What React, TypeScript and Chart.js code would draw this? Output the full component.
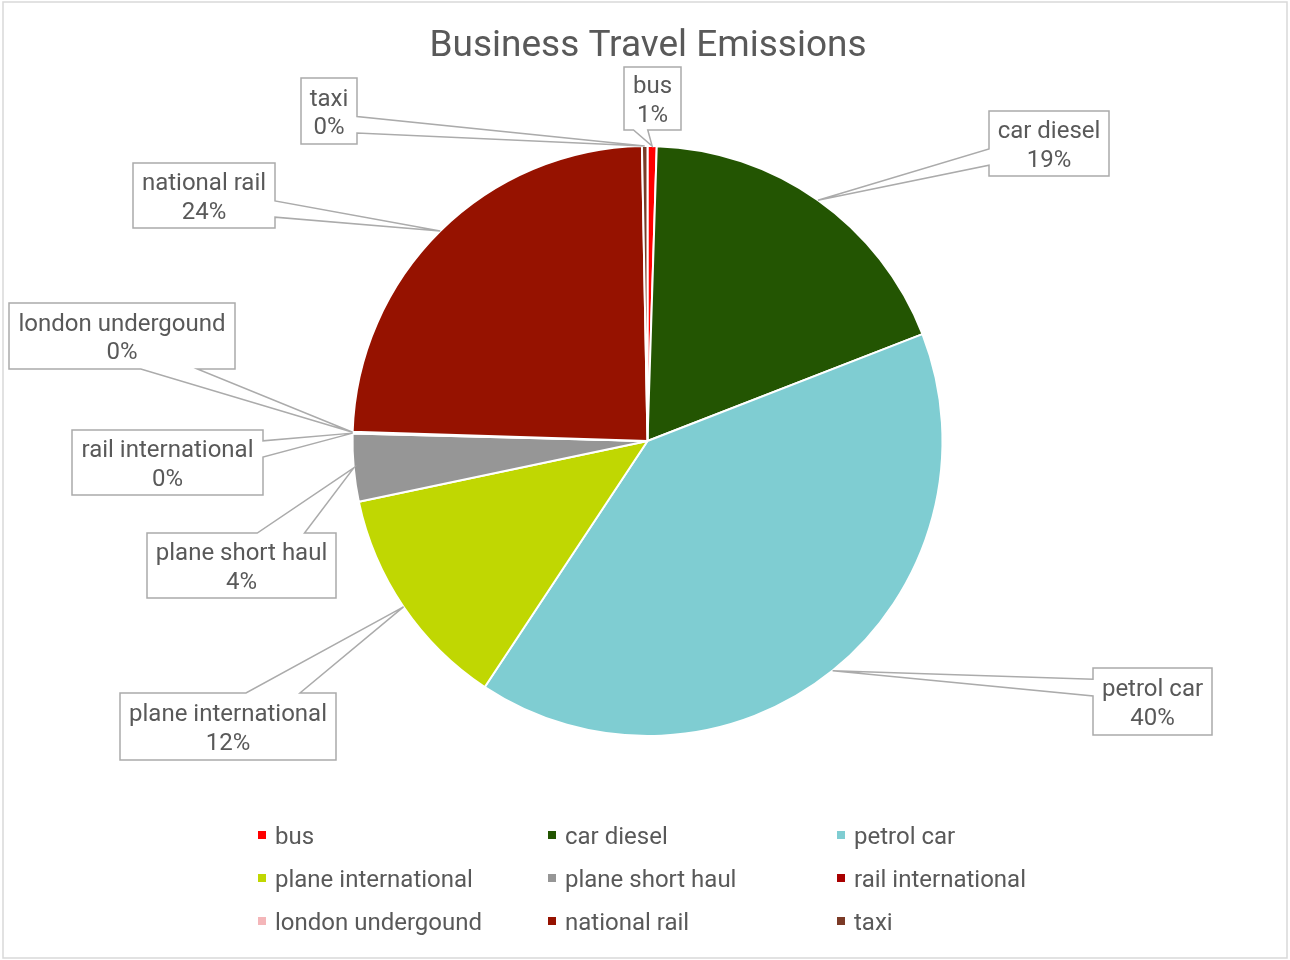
import React, { useEffect, useRef } from "react";
import { Chart, registerables } from "chart.js";

Chart.register(...registerables);

const chartTitle = "Business Travel Emissions";
const categories = [
  "bus",
  "car diesel",
  "petrol car",
  "plane international",
  "plane short haul",
  "rail international",
  "london undergound",
  "national rail",
  "taxi",
];
const emissionShares = [0.5, 18.6, 40.2, 12.4, 3.7, 0.05, 0.05, 24.2, 0.3];
const sliceColors = [
  "#FF0000",
  "#235502",
  "#7FCDD2",
  "#C0D702",
  "#969696",
  "#A80000",
  "#F4B6B9",
  "#961200",
  "#7B3A26",
];

// callout box rectangles [left, top, right, bottom] (layout only)
const calloutBoxes = [
  [624, 67, 681, 130],
  [989, 111, 1109, 176],
  [1093, 668, 1212, 735],
  [120, 693, 336, 760],
  [147, 533, 336, 598],
  [72, 430, 263, 495],
  [9, 303, 235, 369],
  [133, 163, 275, 228],
  [301, 78, 357, 144],
];

const legendColumnsX = [258, 548, 837];
const legendRowsY = [835, 878, 921];

const FONT = "Roboto, 'Noto Sans', sans-serif";
const TEXT_COLOR = "#595959";
const LINE_COLOR = "#ABABAB";

function drawCallout(ctx, box, tip) {
  const [l, t, r, b] = box;
  const w = r - l;
  const h = b - t;
  const hc = (l + r) / 2;
  const vc = (t + b) / 2;
  const dxPos = tip.x - hc;
  const dyPos = tip.y - vc;
  const dx = dxPos * h;
  const dy = dyPos * w;
  const inside = tip.x >= l && tip.x <= r && tip.y >= t && tip.y <= b;
  const vertical = Math.abs(dy) > Math.abs(dx);
  const x1 = l + (w * (dxPos > 0 ? 7 : 2)) / 12;
  const x2 = l + (w * (dxPos > 0 ? 10 : 5)) / 12;
  const y1 = t + (h * (dyPos > 0 ? 7 : 2)) / 12;
  const y2 = t + (h * (dyPos > 0 ? 10 : 5)) / 12;

  ctx.beginPath();
  ctx.moveTo(l, t);
  if (!inside && vertical && dyPos < 0) {
    ctx.lineTo(x1, t);
    ctx.lineTo(tip.x, tip.y);
    ctx.lineTo(x2, t);
  }
  ctx.lineTo(r, t);
  if (!inside && !vertical && dxPos > 0) {
    ctx.lineTo(r, y1);
    ctx.lineTo(tip.x, tip.y);
    ctx.lineTo(r, y2);
  }
  ctx.lineTo(r, b);
  if (!inside && vertical && dyPos > 0) {
    ctx.lineTo(x2, b);
    ctx.lineTo(tip.x, tip.y);
    ctx.lineTo(x1, b);
  }
  ctx.lineTo(l, b);
  if (!inside && !vertical && dxPos < 0) {
    ctx.lineTo(l, y2);
    ctx.lineTo(tip.x, tip.y);
    ctx.lineTo(l, y1);
  }
  ctx.closePath();
  ctx.fillStyle = "#FFFFFF";
  ctx.fill();
  ctx.strokeStyle = LINE_COLOR;
  ctx.lineWidth = 1.5;
  ctx.lineJoin = "miter";
  ctx.stroke();
}

const decorPlugin = {
  id: "decor",
  beforeDraw(chart) {
    const ctx = chart.ctx;
    ctx.save();
    ctx.fillStyle = "#FFFFFF";
    ctx.fillRect(0, 0, chart.width, chart.height);
    ctx.strokeStyle = "#D9D9D9";
    ctx.lineWidth = 1.5;
    ctx.strokeRect(3, 2, chart.width - 6, chart.height - 4);
    ctx.restore();
  },
  afterDatasetsDraw(chart) {
    const ctx = chart.ctx;
    const meta = chart.getDatasetMeta(0);
    const data = chart.data.datasets[0].data;
    const total = data.reduce((a, v) => a + v, 0);
    ctx.save();
    meta.data.forEach((arc, i) => {
      const p = arc.getProps(["x", "y", "startAngle", "endAngle", "outerRadius"], true);
      const mid = (p.startAngle + p.endAngle) / 2;
      const tip = {
        x: p.x + Math.cos(mid) * p.outerRadius,
        y: p.y + Math.sin(mid) * p.outerRadius,
      };
      const box = calloutBoxes[i];
      drawCallout(ctx, box, tip);
      const cx = (box[0] + box[2]) / 2;
      const cy = (box[1] + box[3]) / 2;
      ctx.fillStyle = TEXT_COLOR;
      ctx.font = `24px ${FONT}`;
      ctx.textAlign = "center";
      ctx.textBaseline = "middle";
      ctx.fillText(chart.data.labels[i], cx, cy - 11.5);
      const pct = Math.round((data[i] / total) * 100 + 1e-9);
      ctx.fillText(`${pct}%`, cx, cy + 17);
    });

    // title
    ctx.fillStyle = TEXT_COLOR;
    ctx.font = `37px ${FONT}`;
    ctx.textAlign = "center";
    ctx.textBaseline = "middle";
    ctx.fillText(chartTitle, 648, 47);

    // legend
    ctx.font = `24px ${FONT}`;
    ctx.textAlign = "left";
    chart.data.labels.forEach((label, i) => {
      const col = i % 3;
      const row = Math.floor(i / 3);
      const x = legendColumnsX[col];
      const y = legendRowsY[row];
      ctx.fillStyle = sliceColors[i];
      ctx.fillRect(x, y - 4, 8, 8);
      ctx.fillStyle = TEXT_COLOR;
      ctx.fillText(label, x + 17, y + 3);
    });
    ctx.restore();
  },
};

export default function App() {
  const canvasRef = useRef(null);

  useEffect(() => {
    document.body.style.margin = "0";
    const canvas = canvasRef.current;
    const chart = new Chart(canvas, {
      type: "pie",
      data: {
        labels: categories,
        datasets: [
          {
            data: emissionShares,
            backgroundColor: sliceColors,
            borderColor: "#FFFFFF",
            borderWidth: 2,
          },
        ],
      },
      options: {
        responsive: false,
        animation: false,
        layout: { padding: { left: 5, right: 0, top: 145, bottom: 223 } },
        plugins: {
          legend: { display: false },
          title: { display: false },
          tooltip: { enabled: false },
        },
      },
      plugins: [decorPlugin],
    });
    return () => chart.destroy();
  }, []);

  return (
    <div style={{ width: 1290, height: 960 }}>
      <canvas ref={canvasRef} width={1290} height={960} style={{ display: "block" }} />
    </div>
  );
}
